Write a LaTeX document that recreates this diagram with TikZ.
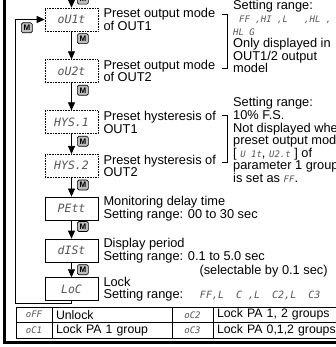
\documentclass[tikz,border=0pt]{standalone}
\usepackage{fontspec}
\setmainfont{Liberation Sans}
\newfontfamily\segfont{DejaVu Sans Mono}
\usetikzlibrary{positioning,arrows.meta}
\definecolor{segink}{HTML}{555555}
\definecolor{keygrey}{HTML}{BDBDBD}
\newcommand{\seg}[2][9]{{\fontsize{#1}{12.6}\segfont\itshape\color{segink}#2}}
\tikzset{
  dispbox/.style  = {draw, densely dotted, line width=0.6pt, minimum width=53pt,
                     minimum height=23pt, inner sep=0pt, text=segink,
                     font=\fontsize{11.5}{12}\segfont\itshape},
  dispsolid/.style= {dispbox, solid},
  mkey/.style     = {draw, fill=keygrey, rounded corners=1.5pt, line width=0.7pt,
                     minimum width=11pt, minimum height=10pt, inner sep=0pt,
                     font=\fontsize{8}{8}\selectfont\bfseries},
  lbl/.style      = {align=left, inner sep=0pt, font=\fontsize{12.8}{12.6}\selectfont},
  flow/.style     = {-{Triangle[length=8pt,width=7pt]}, line width=0.7pt},
  cell/.style     = {draw, line width=0.5pt, outer sep=0pt, minimum height=15.5pt,
                     inner sep=0pt, font=\fontsize{12.3}{12.6}\selectfont},
  textcell/.style = {cell, inner xsep=4pt, align=left},
}
\begin{document}
\begin{tikzpicture}[x=1pt,y=1pt]
  \useasboundingbox (0,0) rectangle (336,-347);
  % panel edges
  \draw[line width=3pt] (4.2,5) -- (4.2,-343.5);
  \draw[line width=3pt] (2.7,-342) -- (340,-342);

  % display chain
  \node[dispbox] (ou1) at (71.5,-19.5) {oU1t};
  \node[dispbox, below=28pt of ou1] (ou2) {oU2t};
  \node[dispbox, below=27.5pt of ou2] (hys1) {HYS.1};
  \node[dispbox, below=20pt of hys1] (hys2) {HYS.2};
  \node[dispsolid, below=19pt of hys2] (pett) {PEtt};
  \node[dispsolid, below=18.5pt of pett] (dist) {dISt};
  \node[dispsolid, below=15pt of dist] (loc) {LoC};

  \coordinate (entry) at (71.5,5);
  \coordinate (loopturn) at (15,-303);
  \draw[flow] (entry) -- (ou1);
  \draw[flow] (ou1) -- (ou2); \draw[flow] (ou2) -- (hys1); \draw[flow] (hys1) -- (hys2);
  \draw[flow] (hys2) -- (pett); \draw[flow] (pett) -- (dist); \draw[flow] (dist) -- (loc);
  \draw[flow] (loc.south) |- (loopturn) |- (ou1.west);

  % M keys
  \node[mkey, anchor=south west] (mtop) at (77,-4.5) {M};
  \node[mkey, anchor=north west] (mloop) at (21,-22.5) {M};
  \node[mkey, anchor=north west] (mou1) at ([xshift=5.5pt,yshift=-2pt]ou1.south) {M};
  \node[mkey, anchor=north west] (mou2) at ([xshift=5.5pt,yshift=-2pt]ou2.south) {M};
  \node[mkey, anchor=north west] (mhys1) at ([xshift=5.5pt,yshift=-2pt]hys1.south) {M};
  \node[mkey, anchor=north west] (mhys2) at ([xshift=5.5pt,yshift=-2pt]hys2.south) {M};
  \node[mkey, anchor=north west] (mpett) at ([xshift=5.5pt,yshift=-1pt]pett.south) {M};
  \node[mkey, anchor=north west] (mdist) at ([xshift=5.5pt,yshift=-2pt]dist.south) {M};

  % descriptions
  \node[lbl, right=5pt of ou1] (ou1lbl) {Preset output mode\\of OUT1};
  \node[lbl, right=5pt of ou2] (ou2lbl) {Preset output mode\\of OUT2};
  \node[lbl, right=5pt of hys1] (hys1lbl) {Preset hysteresis of\\OUT1};
  \node[lbl, right=5pt of hys2] (hys2lbl) {Preset hysteresis of\\OUT2};
  \node[lbl, right=5pt of pett] (pettlbl) {Monitoring delay time\\Setting range: 00 to 30 sec};
  \node[lbl, right=5pt of dist] (distlbl) {Display period\\Setting range: 0.1 to 5.0 sec};
  \node[lbl, anchor=north west] (distnote) at ([xshift=96pt,yshift=-2.5pt]distlbl.south west)
       {(selectable by 0.1 sec)};
  \node[lbl, right=5pt of loc] (loclbl)
       {Lock\\Setting range: \seg[10]{\ \ FF,L\ \ C\ ,L\ \ C2,L\ \ C3}};

  % brackets and ranges
  \draw[line width=0.6pt] (222,-14) -- (227,-14) -- (227,-68) -- (222,-68);
  \draw[line width=0.6pt] (222,-115) -- (227,-115) -- (227,-162) -- (222,-162);
  \node[lbl, anchor=north west] (ourange) at (233,-0.4)
       {Setting range:\\\hspace*{6pt}\seg{FF\ ,HI\ ,L\ \ \ ,HL\ ,}\\\seg{HL\ G}\\Only displayed in\\OUT1/2 output\\model};
  \node[lbl, anchor=north west] (hysrange) at (233,-97.4)
       {Setting range:\\10\% F.S.\\Not displayed when\\preset output mode\\{[}\ \seg{U\ 1t},\ \seg{U2.t}\ ] of\\parameter 1 group\\is set as \seg{FF}.};

  % lock table
  \node[cell, minimum width=36pt, anchor=north west] (offcode) at (16,-307) {\seg{oFF}};
  \node[textcell, text width=112pt, right=0pt of offcode] (offtext) {Unlock};
  \node[cell, minimum width=41pt, right=0pt of offtext] (lc2code) {\seg{oC2}};
  \node[textcell, text width=140pt, right=0pt of lc2code] (lc2text) {Lock PA 1, 2 groups};
  \node[cell, minimum width=36pt, below=0pt of offcode] (lc1code) {\seg{oC1}};
  \node[textcell, text width=112pt, right=0pt of lc1code] (lc1text) {Lock PA 1 group};
  \node[cell, minimum width=41pt, right=0pt of lc1text] (lc3code) {\seg{oC3}};
  \node[textcell, text width=140pt, right=0pt of lc3code] (lc3text) {Lock PA 0,1,2 groups};
\end{tikzpicture}
\end{document}
